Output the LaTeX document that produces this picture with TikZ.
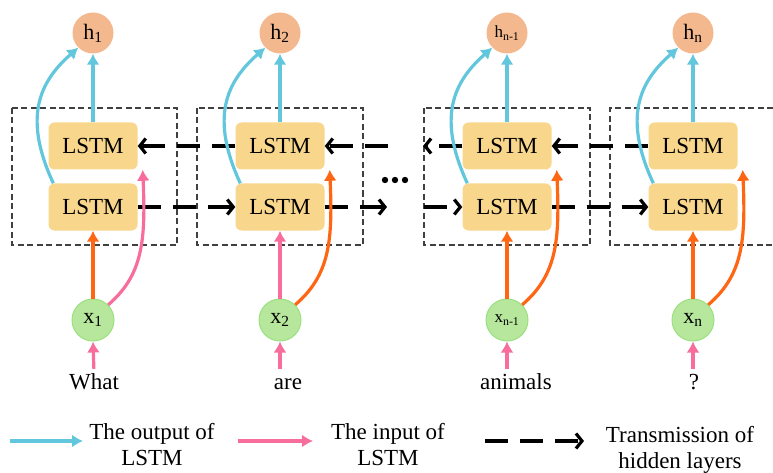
\documentclass[tikz,border=0pt]{standalone}
\usepackage{fontspec}
\setmainfont{Liberation Serif}
\usetikzlibrary{arrows.meta}

\definecolor{lstmfill}{HTML}{F8D68C}
\definecolor{hfill}{HTML}{F4B88E}
\definecolor{xfill}{HTML}{B6E79C}
\definecolor{xline}{HTML}{9BE07F}
\definecolor{outcyan}{HTML}{62C6DD}
\definecolor{inpink}{HTML}{F76E9C}
\definecolor{inorange}{HTML}{FF6614}

\tikzset{
  lstm/.style={rectangle, rounded corners=6pt, fill=lstmfill,
    minimum width=89pt, minimum height=47pt, inner sep=0pt,
    font=\fontsize{23}{27}\selectfont},
  hnode/.style={circle, fill=hfill, minimum size=41pt, inner sep=0pt,
    font=\fontsize{22}{26}\selectfont},
  xnode/.style={circle, fill=xfill, draw=xline, line width=1pt,
    minimum size=42pt, inner sep=0pt, font=\fontsize{22}{26}\selectfont},
  word/.style={inner sep=0pt, text height=16pt, text depth=5pt,
    font=\fontsize{23}{27}\selectfont},
  legendtext/.style={align=center, inner sep=0pt,
    font=\fontsize{23}{26}\selectfont},
  layerbox/.style={draw=black!75, line width=1.2pt, dash pattern=on 6pt off 3.5pt},
  hidden/.style={draw=black, line width=3.2pt, dash pattern=on 23pt off 12pt,
    -{Straight Barb[length=6pt,width=15pt]}},
  output/.style={draw=outcyan, line width=3.2pt, -{Latex[length=11pt,width=13pt]}},
  inputp/.style={draw=inpink, line width=3.2pt, -{Latex[length=11pt,width=13pt]}},
  inputo/.style={draw=inorange, line width=3.2pt, -{Latex[length=11pt,width=13pt]}}
}

\begin{document}
\begin{tikzpicture}[x=1pt,y=-1pt]
  \useasboundingbox (0,0) rectangle (773,473);

  % dashed frames round each time step
  \draw[layerbox] (12,108) rectangle (177,245);
  \draw[layerbox] (197,108) rectangle (363,245);
  \draw[layerbox] (424,108) rectangle (590,245);
  \draw[layerbox] (773,108) -- (610,108) -- (610,245) -- (773,245);

  % hidden states
  \node[hnode] (h1) at (93,33) {h\textsubscript{1}};
  \node[hnode] (h2) at (280,33) {h\textsubscript{2}};
  \node[hnode, font=\fontsize{17}{20}\selectfont] (h3) at (507,33) {h\textsubscript{n-1}};
  \node[hnode] (h4) at (693,33) {h\textsubscript{n}};

  % backward (top) and forward (bottom) cells
  \node[lstm] (t1) at (93,146) {LSTM};
  \node[lstm] (t2) at (280,146) {LSTM};
  \node[lstm] (t3) at (507,146) {LSTM};
  \node[lstm] (t4) at (693,146) {LSTM};
  \node[lstm] (b1) at (93,207) {LSTM};
  \node[lstm] (b2) at (280,207) {LSTM};
  \node[lstm] (b3) at (507,207) {LSTM};
  \node[lstm] (b4) at (693,207) {LSTM};

  % inputs
  \node[xnode] (x1) at (93,320) {x\textsubscript{1}};
  \node[xnode] (x2) at (280,320) {x\textsubscript{2}};
  \node[xnode, font=\fontsize{17}{20}\selectfont] (x3) at (507,320) {x\textsubscript{n-1}};
  \node[xnode] (x4) at (693,320) {x\textsubscript{n}};

  \node[word] (w1) at (94,383.5) {What};
  \node[word] (w2) at (288,383.5) {are};
  \node[word] (w3) at (516,383.5) {animals};
  \node[word] (w4) at (694,383.5) {?};

  \fill (385,180) circle[radius=3.2pt] (395,180) circle[radius=3.2pt] (405,180) circle[radius=3.2pt];

  \coordinate (g1) at (388,146);
  \coordinate (g2) at (423,146);
  \coordinate (g3) at (387,207);
  \coordinate (g4) at (424,207);

  % transmission between hidden layers
  \begin{scope}
    \draw[hidden] (t2.west) -- (t1.east);
    \draw[hidden] (g1) -- (t2.east);
    \draw[hidden] (t3.west) -- (g2);
    \draw[hidden] (t4.west) -- (t3.east);
    \draw[hidden] (b1.east) -- (b2.west);
    \draw[hidden] (b2.east) -- (g3);
    \draw[hidden] (g4) -- (b3.west);
    \draw[hidden] (b3.east) -- (b4.west);
  \end{scope}

  % outputs
  \begin{scope}
    \draw[output] (t1.north) -- (h1.south);
    \draw[output] (t2.north) -- (h2.south);
    \draw[output] (t3.north) -- (h3.south);
    \draw[output] (t4.north) -- (h4.south);
    \draw[output] ([xshift=5pt]b1.north west) .. controls +(-30,-65) and +(-40,35) .. (h1.225);
    \draw[output] ([xshift=5pt]b2.north west) .. controls +(-30,-65) and +(-40,35) .. (h2.225);
    \draw[output] ([xshift=5pt]b3.north west) .. controls +(-30,-65) and +(-40,35) .. (h3.225);
    \draw[output] ([xshift=5pt]b4.north west) .. controls +(-30,-65) and +(-40,35) .. (h4.225);
  \end{scope}

  % inputs into the cells
  \begin{scope}
    \draw[inputo] (x1.north) -- (b1.south);
    \draw[inputp] (x1.45) .. controls +(35,-30) and +(3,70) .. ([xshift=5pt]t1.south east);
    \draw[inputp] (x2.north) -- (b2.south);
    \draw[inputo] (x2.45) .. controls +(35,-30) and +(3,70) .. ([xshift=5pt]t2.south east);
    \draw[inputo] (x3.north) -- (b3.south);
    \draw[inputo] (x3.45) .. controls +(35,-30) and +(3,70) .. ([xshift=5pt]t3.south east);
    \draw[inputo] (x4.north) -- (b4.south);
    \draw[inputo] (x4.45) .. controls +(35,-30) and +(3,70) .. ([xshift=5pt]t4.south east);
    \draw[inputp, shorten <=4pt] (w1.north) -- (x1.south);
    \draw[inputp, shorten <=4pt] (w2.north -| x2) -- (x2.south);
    \draw[inputp, shorten <=4pt] (w3.north -| x3) -- (x3.south);
    \draw[inputp, shorten <=4pt] (w4.north -| x4) -- (x4.south);
  \end{scope}

  % legend
  \coordinate (lo1) at (10,441);
  \coordinate (lo2) at (83,441);
  \coordinate (li1) at (238,441);
  \coordinate (li2) at (313,441);
  \coordinate (lh1) at (485,441);
  \coordinate (lh2) at (584,441);
  \draw[output] (lo1) -- (lo2);
  \draw[inputp] (li1) -- (li2);
  \draw[hidden] (lh1) -- (lh2);
  \node[legendtext] (lgout) at (152,445) {The output of\\LSTM};
  \node[legendtext] (lgin) at (388,445) {The input of\\LSTM};
  \node[legendtext] (lghid) at (680,450) {Transmission of\\hidden layers};
\end{tikzpicture}
\end{document}
